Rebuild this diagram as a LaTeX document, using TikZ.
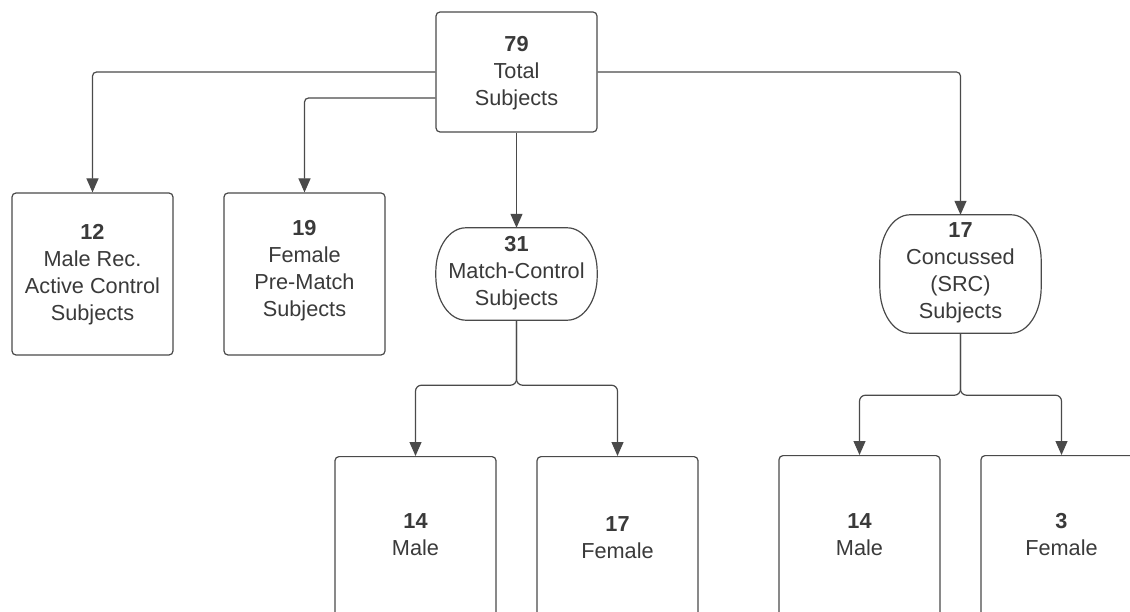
\documentclass[tikz,border=0pt]{standalone}
\usepackage{fontspec}
\setmainfont{Liberation Sans}
\usetikzlibrary{arrows.meta,calc}
\definecolor{ink}{HTML}{3A3A3A}
\definecolor{edge}{HTML}{4A4A4A}
\tikzset{
  box/.style={draw=edge, line width=1.2pt, rounded corners=4pt, minimum width=161pt, inner sep=0pt, fill=white},
  oval/.style={minimum width=161pt, inner sep=0pt},
  ovalline/.style={draw=edge, line width=1.2pt, fill=white},
  txt/.style={text=ink, align=center, font=\fontsize{21.7}{27}\selectfont, inner sep=0pt},
  conn/.style={draw=edge, line width=1.2pt, -{Triangle[width=12pt,length=14pt]}},
  split/.style={conn, rounded corners=6pt}
}
\newcommand{\ovalpath}[3]{%
  \draw[ovalline] ([xshift=#2]#1.north west) -- ([xshift=-#2]#1.north east)
    arc[start angle=90,end angle=0,x radius=#2,y radius=#3]
    -- ([yshift=#3]#1.south east)
    arc[start angle=0,end angle=-90,x radius=#2,y radius=#3]
    -- ([xshift=#2]#1.south west)
    arc[start angle=270,end angle=180,x radius=#2,y radius=#3]
    -- ([yshift=-#3]#1.north west)
    arc[start angle=180,end angle=90,x radius=#2,y radius=#3] -- cycle;}
\begin{document}
\begin{tikzpicture}[x=1pt,y=-1pt]
\useasboundingbox (0,0) rectangle (1130,612);
\clip (0,0) rectangle (1130,612);
% top
\node[box, minimum height=120pt] (top) at (516.5,72) {};
\node[txt] (toptxt) at (516.5,73) {\textbf{79}\\Total\\Subjects};
% level 2
\node[box, minimum height=162pt] (b12) at (92.5,274) {};
\node[txt] (b12txt) at (92.5,275) {\textbf{12}\\Male Rec.\\Active Control\\Subjects};
\node[box, minimum height=162pt] (b19) at (304.5,274) {};
\node[txt] (b19txt) at (304.5,271) {\textbf{19}\\Female\\Pre-Match\\Subjects};
\node[oval, minimum height=92pt] (n31) at (516.5,274) {};
\ovalpath{n31}{30pt}{44pt}
\node[txt] (n31txt) at (516.5,273) {\textbf{31}\\Match-Control\\Subjects};
\node[oval, minimum height=118pt] (n17) at (960.5,274) {};
\ovalpath{n17}{30pt}{46pt}
\node[txt] (n17txt) at (960.5,273) {\textbf{17}\\Concussed\\(SRC)\\Subjects};
% level 3
\node[box, minimum height=200pt, anchor=north] (m1) at (415.5,456) {};
\node[txt] (m1txt) at (415.5,535) {\textbf{14}\\Male};
\node[box, minimum height=200pt, anchor=north] (f1) at (617.5,456) {};
\node[txt] (f1txt) at (617.5,538) {\textbf{17}\\Female};
\node[box, minimum height=200pt, anchor=north] (m2) at (859.5,455) {};
\node[txt] (m2txt) at (859.5,535) {\textbf{14}\\Male};
\node[box, minimum height=200pt, anchor=north] (f2) at (1061.5,455) {};
\node[txt] (f2txt) at (1061.5,535) {\textbf{3}\\Female};
% connectors
\draw[conn, rounded corners=4pt] (top.west) -| (b12.north);
\draw[conn, rounded corners=4pt] ([yshift=-26pt]top.west) -| (b19.north);
\draw[conn] (top.south) -- (n31.north);
\draw[conn, rounded corners=4pt] (top.east) -| (n17.north);
\coordinate (j31) at ($(n31.south)+(0,65)$);
\coordinate (j17) at ($(n17.south)+(0,62)$);
\draw[split] (n31.south) -- (j31) -| (m1.north);
\draw[split] (n31.south) -- (j31) -| (f1.north);
\draw[split] (n17.south) -- (j17) -| (m2.north);
\draw[split] (n17.south) -- (j17) -| (f2.north);
\end{tikzpicture}
\end{document}
